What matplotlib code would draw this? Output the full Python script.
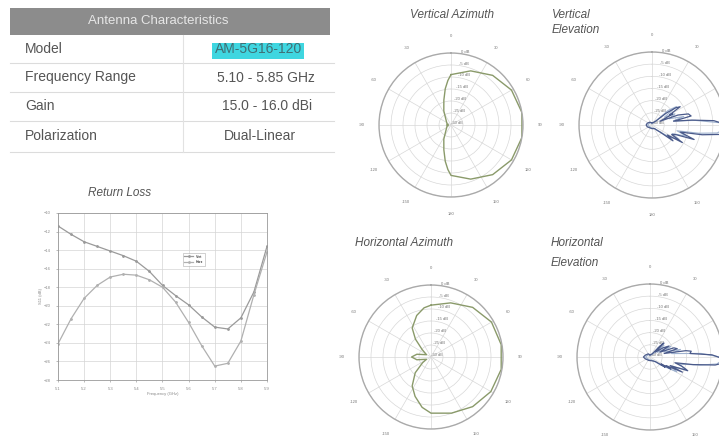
import numpy as np
import matplotlib
matplotlib.use("Agg")
import matplotlib.pyplot as plt
from matplotlib.patches import Rectangle

plt.rcParams['font.family'] = ['Liberation Sans', 'DejaVu Sans']

W, H = 719, 438

# table
table_rows = ["Model", "Frequency Range", "Gain", "Polarization"]
table_vals = ["AM-5G16-120", "5.10 - 5.85 GHz", "15.0 - 16.0 dBi", "Dual-Linear"]

# return loss (dB)
freq = [5.10, 5.15, 5.20, 5.25, 5.30, 5.35, 5.40, 5.45, 5.50, 5.55, 5.60,
        5.65, 5.70, 5.75, 5.80, 5.85, 5.90]
rl_port1 = [-11.4, -12.3, -13.1, -13.6, -14.1, -14.6, -15.2, -16.3, -17.8, -18.9,
            -19.9, -21.2, -22.3, -22.5, -21.3, -18.5, -13.6]
rl_port2 = [-24.1, -21.4, -19.2, -17.8, -16.9, -16.6, -16.7, -17.2, -18.0, -19.6,
            -21.8, -24.3, -26.5, -26.2, -23.8, -18.8, -14.2]
rl_labels = ["Vert", "Horz"]

# vertical azimuth (deg, dB)
va_ang = [0, 20, 40, 60, 80, 100, 120, 140, 160, 180, 184, 189, 196, 207, 221,
          250, 262, 270, 278, 290, 319, 333, 344, 351, 356, 360]
va_db = [-9.0, -6.0, -3.0, -0.9, 0.0, 0.0, -0.9, -3.0, -6.0, -9.0, -11.4, -14.7,
         -19.2, -23.4, -26.7, -28.2, -28.8, -28.2, -28.8, -28.2, -26.7, -23.4,
         -19.2, -14.7, -11.4, -9.0]

# horizontal azimuth (deg, dB)
ha_ang = [0, 20, 40, 60, 80, 100, 120, 140, 160, 180, 190, 202, 213, 225, 236,
          243, 259, 270, 281, 297, 310, 319, 327, 341, 352, 360]
ha_db = [-8.4, -6.0, -3.0, -0.9, -0.3, -0.3, -1.2, -3.0, -5.1, -6.6, -8.7, -12.3,
         -15.6, -20.7, -25.8, -27.9, -24.0, -21.9, -24.0, -27.9, -25.2, -20.1,
         -15.6, -11.7, -9.3, -8.4]

# vertical elevation (deg, dB), two ports
ve_ang1 = [0, 30, 45, 50, 54, 57, 60, 62, 65, 69, 73, 77, 80, 83, 86, 89, 92, 95,
           98, 101, 104, 107, 109, 112, 116, 120, 123, 127, 131, 136, 145, 180,
           220, 250, 270, 290, 320, 360]
ve_db1 = [-29.1, -28.8, -27.6, -22.5, -18.0, -16.2, -21.6, -20.4, -26.4, -18.6,
          -14.4, -13.5, -21.0, -13.5, -4.5, -0.6, 0.0, -0.3, -2.1, -9.0, -18.0,
          -15.0, -11.7, -19.5, -21.0, -15.6, -22.5, -19.2, -25.5, -27.0, -28.2,
          -28.5, -28.5, -27.9, -27.6, -27.9, -28.5, -29.1]
ve_ang2 = [0, 40, 48, 53, 58, 64, 70, 75, 79, 84, 88, 91, 94, 97, 100, 103, 108,
           113, 118, 125, 133, 150, 200, 270, 330, 360]
ve_db2 = [-29.4, -28.5, -21.0, -17.4, -24.0, -19.5, -22.5, -16.5, -21.0, -12.0,
          -2.4, -0.6, -0.9, -3.0, -10.5, -19.5, -15.0, -21.0, -17.4, -21.6, -26.4,
          -28.5, -28.8, -28.2, -28.8, -29.4]

# horizontal elevation (deg, dB), two ports
he_ang1 = [0, 35, 42, 45, 48, 55, 60, 64, 69, 73, 76, 80, 82, 85, 88, 91, 93, 95,
           97, 100, 103, 106, 110, 113, 115, 118, 120, 122, 124, 130, 150, 200,
           250, 270, 290, 330, 360]
he_db1 = [-29.1, -28.5, -24.0, -21.9, -27.0, -23.4, -21.0, -25.5, -19.5, -18.3,
          -24.0, -15.0, -12.9, -13.5, -4.5, -0.6, 0.0, -0.3, -3.0, -12.0, -19.5,
          -16.5, -13.5, -21.0, -15.3, -22.5, -20.1, -24.6, -22.5, -27.0, -28.2,
          -28.5, -27.9, -27.3, -27.9, -28.5, -29.1]
he_ang2 = [0, 40, 50, 57, 63, 70, 76, 81, 86, 90, 93, 96, 99, 104, 109, 114, 119,
           127, 140, 200, 270, 330, 360]
he_db2 = [-29.4, -28.5, -22.5, -26.4, -20.4, -24.0, -17.1, -21.0, -9.0, -1.2,
          -0.6, -2.4, -9.0, -18.0, -14.1, -20.4, -17.4, -24.6, -28.2, -28.8,
          -28.2, -28.8, -29.4]

fig = plt.figure(figsize=(W / 100, H / 100), dpi=100)


def box(x, y, w, h):
    return [x / W, 1 - (y + h) / H, w / W, h / H]


# background / table
bg = fig.add_axes([0, 0, 1, 1])
bg.set_xlim(0, W)
bg.set_ylim(H, 0)
bg.axis('off')
bg.add_patch(Rectangle((10, 8), 320, 27, color='#8c8c8c', lw=0))
bg.text(158, 21.5, "Antenna Characteristics", ha='center', va='center',
        fontsize=9.5, color='#e6e6e6')
row_y = [35, 63, 92, 121, 152]
for y in row_y[1:]:
    bg.plot([10, 334], [y, y], color='#dcdcdc', lw=0.8)
bg.plot([183, 183], [35, 152], color='#e2e2e2', lw=0.8)
bg.add_patch(Rectangle((212, 43), 92, 16, color='#3fd6e0', lw=0))
val_x = [259, 266, 267, 260]
for i, (lab, val) in enumerate(zip(table_rows, table_vals)):
    yc = (row_y[i] + row_y[i + 1]) / 2
    bg.text(25, yc, lab, ha='left', va='center', fontsize=10, color='#555555')
    bg.text(val_x[i], yc, val, ha='center', va='center', fontsize=10,
            color='#3f6f75' if i == 0 else '#555555')

# titles
tkw = dict(fontsize=8.5, style='italic', color='#555555', va='center')
bg.text(120, 193, "Return Loss", ha='center', **tkw)
bg.text(452, 15, "Vertical Azimuth", ha='center', **tkw)
bg.text(552, 15, "Vertical", ha='left', **tkw)
bg.text(552, 30, "Elevation", ha='left', **tkw)
bg.text(355, 243, "Horizontal Azimuth", ha='left', **tkw)
bg.text(551, 243, "Horizontal", ha='left', **tkw)
bg.text(551, 263, "Elevation", ha='left', **tkw)

# return loss chart
ax = fig.add_axes(box(58, 213, 209, 167))
ax.plot(freq, rl_port1, color='#9a9a9a', lw=0.9, marker='.', ms=2, label=rl_labels[0])
ax.plot(freq, rl_port2, color='#b0b0b0', lw=0.9, marker='.', ms=2, label=rl_labels[1])
ax.set_xlim(5.1, 5.9)
ax.set_ylim(-28, -10)
ax.set_xticks(np.arange(5.1, 5.91, 0.1))
ax.set_yticks(np.arange(-28, -9, 2))
ax.tick_params(labelsize=3, colors='#888888', length=1.5, width=0.4)
ax.grid(True, color='#d5d5d5', lw=0.5)
ax.set_xlabel("Frequency (GHz)", fontsize=3, color='#888888', labelpad=1)
ax.set_ylabel("S11 (dB)", fontsize=3, color='#888888', labelpad=1)
for s in ax.spines.values():
    s.set_color('#999999')
    s.set_linewidth(0.6)
leg = ax.legend(fontsize=2.5, loc='upper left', bbox_to_anchor=(0.59, 0.77),
                frameon=True, fancybox=False, handlelength=2.5)
leg.get_frame().set_linewidth(0.4)
leg.get_frame().set_edgecolor('#999999')

ang_labels = ['0', '30', '60', '90', '120', '150', '180', '-150', '-120', '-90', '-60', '-30']
r_ticks = [-30, -25, -20, -15, -10, -5, 0]
r_labels = ['-30 dB', '-25 dB', '-20 dB', '-15 dB', '-10 dB', '-5 dB', '0 dB']


def polar(cx, cy, R):
    p = fig.add_axes(box(cx - R, cy - R, 2 * R, 2 * R), projection='polar')
    p.set_theta_zero_location('N')
    p.set_theta_direction(-1)
    p.set_ylim(-30, 0)
    p.set_thetagrids(range(0, 360, 30), ang_labels, fontsize=3, color='#777777')
    p.set_rgrids(r_ticks, r_labels, angle=8, fontsize=3, color='#777777')
    p.tick_params(pad=2)
    p.grid(True, color='#d8d8d8', lw=0.5)
    p.spines['polar'].set_color('#aaaaaa')
    p.spines['polar'].set_linewidth(1.0)
    return p


pa = polar(451, 125, 72)
pa.plot(np.radians(va_ang), va_db, color='#8a9a6a', lw=1.0)

pe = polar(652, 125, 73)
pe.plot(np.radians(ve_ang2), ve_db2, color='#9fb2cf', lw=0.8)
pe.plot(np.radians(ve_ang1), ve_db1, color='#4a5a8a', lw=0.9)

ph = polar(431, 357, 72)
ph.plot(np.radians(ha_ang), ha_db, color='#8a9a6a', lw=1.0)

pv = polar(650, 357, 73)
pv.plot(np.radians(he_ang2), he_db2, color='#9fb2cf', lw=0.8)
pv.plot(np.radians(he_ang1), he_db1, color='#4a5a8a', lw=0.9)

fig.savefig("out.png", dpi=100)
